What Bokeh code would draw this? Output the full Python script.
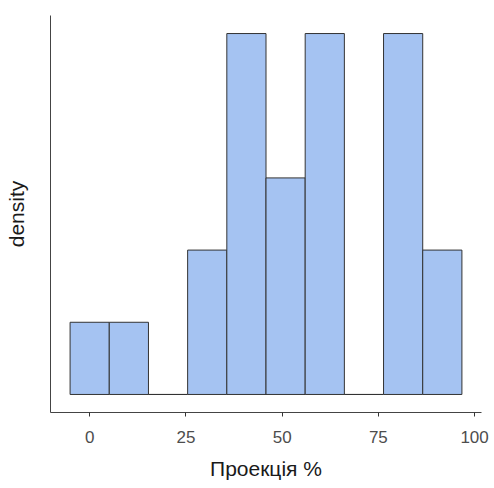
from bokeh.plotting import figure
from bokeh.models import Range1d, FixedTicker, ColumnDataSource
from bokeh.embed import file_html
from bokeh.resources import INLINE

# Data
bin_start = -5.09
bin_width = 10.18
counts = [1, 1, 0, 2, 5, 3, 5, 0, 5, 2]
x_ticks = [0, 25, 50, 75, 100]

n = sum(counts)
lefts = [bin_start + i * bin_width for i in range(len(counts))]
rights = [l + bin_width for l in lefts]
dens = [c / (n * bin_width) for c in counts]
ymax = max(dens)
xmin, xmax = lefts[0], rights[-1]
xpad = 0.05 * (xmax - xmin)

src = ColumnDataSource(dict(left=lefts, right=rights, top=dens, bottom=[0] * len(dens)))

p = figure(output_backend="svg", toolbar_location=None,
           frame_width=431, frame_height=397,
           min_border_left=50, min_border_top=15, min_border_right=13, min_border_bottom=60,
           x_range=Range1d(xmin - xpad, xmax + xpad),
           y_range=Range1d(-0.05 * ymax, 1.05 * ymax))

p.quad(left="left", right="right", top="top", bottom="bottom", source=src,
       fill_color="#a5c3f2", line_color="#333333", line_width=1)

p.outline_line_color = None
p.background_fill_color = "white"
p.border_fill_color = "white"
p.xgrid.grid_line_color = None
p.ygrid.grid_line_color = None

ax = p.xaxis[0]
ax.ticker = FixedTicker(ticks=x_ticks)
ax.minor_tick_line_color = None
ax.major_tick_in = 0
ax.major_tick_out = 4
ax.major_tick_line_color = "#333333"
ax.axis_line_color = "#444444"
ax.axis_line_width = 1
ax.major_label_text_font = "Liberation Sans"
ax.major_label_text_font_size = "17px"
ax.major_label_text_color = "#4d4d4d"
ax.major_label_standoff = 14
ax.axis_label = "Проекція %"
ax.axis_label_text_font = "Liberation Sans"
ax.axis_label_text_font_size = "21px"
ax.axis_label_text_font_style = "normal"
ax.axis_label_text_color = "#1a1a1a"
ax.axis_label_standoff = 11

ay = p.yaxis[0]
ay.ticker = FixedTicker(ticks=[])
ay.major_tick_line_color = None
ay.minor_tick_line_color = None
ay.major_tick_in = 0
ay.major_tick_out = 0
ay.major_label_standoff = 0
ay.axis_line_color = "#444444"
ay.axis_line_width = 1
ay.axis_label = "density"
ay.axis_label_text_font = "Liberation Sans"
ay.axis_label_text_font_size = "21px"
ay.axis_label_text_font_style = "normal"
ay.axis_label_text_color = "#1a1a1a"
ay.axis_label_standoff = 23

open("out.html", "w").write(file_html(p, INLINE))
